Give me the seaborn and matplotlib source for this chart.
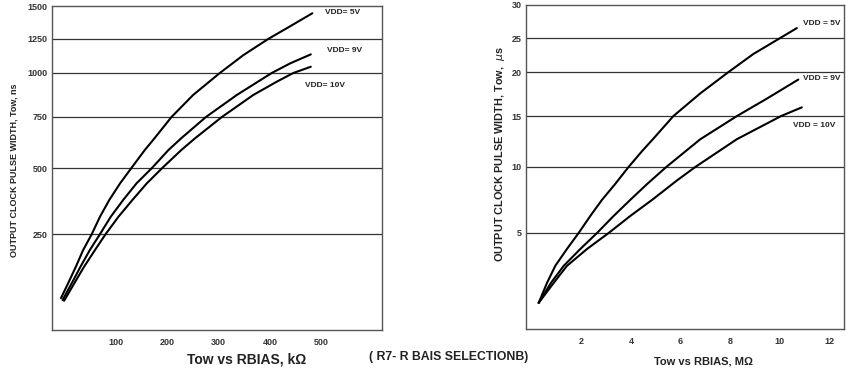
import numpy as np
import pandas as pd
import matplotlib
matplotlib.use('Agg')
import matplotlib.pyplot as plt
import seaborn as sns

# left chart: Tow (ns) vs RBIAS (kOhm)
k_5v_x = [-7, 7, 22, 36, 53, 69, 87, 108, 130, 156, 175, 208, 250, 302, 348, 396, 432, 482]
k_5v_y = [83, 122, 165, 208, 250, 316, 379, 442, 500, 588, 646, 750, 875, 1000, 1132, 1250, 1331, 1445]
k_9v_x = [-4, 14, 31, 49, 69, 90, 114, 140, 170, 202, 227, 275, 335, 403, 439, 479]
k_9v_y = [78, 122, 165, 208, 250, 316, 379, 442, 500, 588, 646, 750, 875, 1000, 1071, 1137]
k_10v_x = [-1, 19, 38, 59, 80, 105, 132, 160, 190, 227, 254, 306, 367, 413, 445, 479]
k_10v_y = [76, 122, 165, 208, 250, 316, 379, 442, 500, 588, 646, 750, 875, 951, 1000, 1046]

# right chart: Tow (us) vs RBIAS (MOhm)
m_5v_x = [0.28, 0.62, 0.95, 1.42, 1.89, 2.36, 2.83, 3.37, 3.90, 4.45, 4.88, 5.71, 6.79, 7.93, 8.93, 10.01, 10.68]
m_5v_y = [1.36, 2.41, 3.29, 4.17, 5.0, 6.29, 7.51, 8.73, 10.0, 11.57, 12.72, 15.0, 17.57, 20.0, 22.65, 25.0, 26.5]
m_9v_x = [0.28, 0.78, 1.29, 1.96, 2.63, 3.30, 3.97, 4.66, 5.42, 6.79, 8.27, 9.47, 10.74]
m_9v_y = [1.36, 2.41, 3.29, 4.17, 5.0, 6.29, 7.51, 8.73, 10.0, 12.72, 15.0, 16.97, 19.14]
m_10v_x = [0.28, 0.89, 1.42, 2.23, 3.10, 3.97, 4.85, 5.85, 6.59, 8.26, 10.05, 10.88]
m_10v_y = [1.36, 2.41, 3.29, 4.17, 5.0, 6.29, 7.51, 8.98, 10.0, 12.72, 15.0, 15.98]

k_ticks = [250, 500, 750, 1000, 1250, 1500]
m_ticks = [5, 10, 15, 20, 25, 30]
k_xticks = [100, 200, 300, 400, 500]
m_xticks = [2, 4, 6, 8, 10, 12]
labels = ['VDD= 5V', 'VDD= 9V', 'VDD= 10V']
m_labels = ['VDD = 5V', 'VDD = 9V', 'VDD = 10V']

# the printed chart has a compressed (roughly square-root) value axis
knot_frac = np.array([0, 96, 162, 213, 257, 291, 324, 400]) / 324.0


def make_scale(top):
    knot_v = np.array([0, 1, 2, 3, 4, 5, 6, 8]) * top / 6.0
    fwd = lambda v: np.interp(v, knot_v, knot_frac)
    inv = lambda h: np.interp(h, knot_frac, knot_v)
    return fwd, inv


def long_df(xs, ys):
    rows = []
    for name, x, y in zip(labels, xs, ys):
        rows.append(pd.DataFrame({'x': x, 'y': y, 'vdd': name}))
    return pd.concat(rows, ignore_index=True)


k_df = long_df([k_5v_x, k_9v_x, k_10v_x], [k_5v_y, k_9v_y, k_10v_y])
m_df = long_df([m_5v_x, m_9v_x, m_10v_x], [m_5v_y, m_9v_y, m_10v_y])

sns.set_style('white')
plt.rcParams['font.family'] = ['Liberation Sans', 'DejaVu Sans']

fig = plt.figure(figsize=(8.5, 3.77), dpi=100)
ax1 = fig.add_axes([52 / 850, 47 / 377, 330 / 850, 324 / 377])
ax2 = fig.add_axes([526 / 850, 48 / 377, 318 / 850, 324 / 377])

panels = [
    (ax1, k_df, 1500, k_ticks, k_xticks, (-24.5, 617.5)),
    (ax2, m_df, 30, m_ticks, m_xticks, (-0.23, 12.58)),
]

for ax, df, top, yt, xt, xlim in panels:
    fwd, inv = make_scale(top)
    ax.set_yscale('function', functions=(fwd, inv))
    for t in yt[:-1]:
        ax.axhline(t, color='#333333', lw=0.9, zorder=1)
    sns.lineplot(data=df, x='x', y='y', hue='vdd', palette=['black'] * 3,
                 sort=False, estimator=None, lw=1.5, legend=False, ax=ax, zorder=3)
    ax.set_ylim(0, top)
    ax.set_xlim(*xlim)
    ax.set_yticks(yt)
    ax.set_yticklabels([str(t) for t in yt], fontsize=6.5, fontweight='bold', color='#333333')
    ax.set_xticks(xt)
    ax.set_xticklabels([str(t) for t in xt], fontsize=6.5, fontweight='bold', color='#333333')
    ax.tick_params(axis='y', length=0, pad=3)
    ax.tick_params(axis='x', direction='inout', length=6, width=0.8, color='#333333', pad=3)
    for s in ax.spines.values():
        s.set_color('#555555')
        s.set_linewidth(1.0)
    ax.set_xlabel('')
    ax.set_ylabel('')

fig.text(14 / 850, 1 - 170 / 377, 'OUTPUT CLOCK PULSE WIDTH, Tow, ns', rotation=90,
         ha='center', va='center', fontsize=6.5, fontweight='bold', color='#222222')
fig.text(500 / 850, 1 - 154 / 377, 'OUTPUT CLOCK PULSE WIDTH, Tow,  $\\mu$s', rotation=90,
         ha='center', va='center', fontsize=7.8, fontweight='bold', color='#222222')
fig.text(247 / 850, 1 - 359 / 377, 'Tow vs RBIAS, k\u03a9', ha='center', va='center',
         fontsize=10, fontweight='bold', color='#222222')
fig.text(703 / 850, 1 - 361 / 377, 'Tow vs RBIAS, M\u03a9', ha='center', va='center',
         fontsize=8, fontweight='bold', color='#222222')
fig.text(449 / 850, 1 - 357 / 377, '( R7- R BAIS SELECTIONB)', ha='center', va='center',
         fontsize=8.8, fontweight='bold', color='#222222')

k_pos = [(507, 1450), (511, 1167), (468, 928)]
m_pos = [(10.93, 27.2), (10.93, 19.3), (10.52, 14.1)]
for (x, y), t in zip(k_pos, labels):
    ax1.text(x, y, t, fontsize=6, fontweight='bold', va='center', ha='left', color='#222222')
for (x, y), t in zip(m_pos, m_labels):
    ax2.text(x, y, t, fontsize=6, fontweight='bold', va='center', ha='left', color='#222222')

fig.savefig('out.png', dpi=100)
